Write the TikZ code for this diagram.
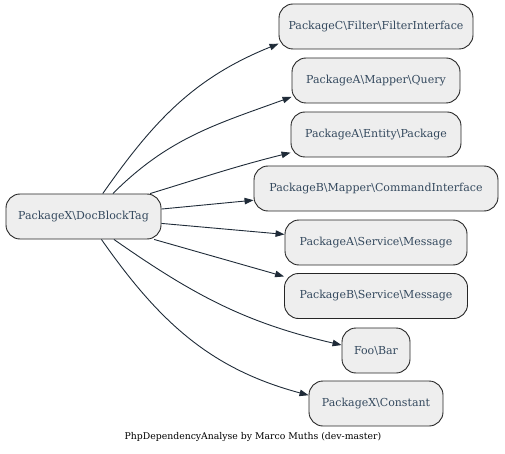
\documentclass[tikz,border=0pt]{standalone}
\usepackage{fontspec}
\setmainfont{DejaVu Serif}
\usetikzlibrary{arrows.meta}
\definecolor{pkgfill}{HTML}{EEEEEE}
\definecolor{pkgtext}{HTML}{34495E}
\definecolor{deparrow}{HTML}{1F2B38}
\tikzset{
  pkg/.style={draw=black!85, fill=pkgfill, rounded corners=14pt, text=pkgtext,
              font=\fontsize{11}{13}\selectfont, minimum height=45pt, inner xsep=6pt,
              line width=0.9pt},
  dep/.style={-{Triangle[length=9pt, width=6.5pt]}, draw=deparrow, line width=0.9pt},
}
\newcommand{\bs}{\textbackslash}
\begin{document}
\begin{tikzpicture}[x=1pt, y=1pt]
  \useasboundingbox (0,0) rectangle (505,-454);
  \node[pkg, minimum width=155pt] (X) at (83.5,-216.5) {PackageX\bs DocBlockTag};
  \node[pkg, minimum width=194pt] (CFilter) at (376,-26.5) {PackageC\bs Filter\bs FilterInterface};
  \node[pkg, minimum width=168pt] (AQuery) at (376,-80.5) {PackageA\bs Mapper\bs Query};
  \node[pkg, minimum width=170pt] (AEntity) at (376,-134.5) {PackageA\bs Entity\bs Package};
  \node[pkg, minimum width=244pt] (BCommand) at (376,-188.5) {PackageB\bs Mapper\bs CommandInterface};
  \node[pkg, minimum width=182pt] (AMessage) at (376,-242.5) {PackageA\bs Service\bs Message};
  \node[pkg, minimum width=183pt] (BMessage) at (376,-296) {PackageB\bs Service\bs Message};
  \node[pkg, minimum width=68pt] (FooBar) at (376,-350.5) {Foo\bs Bar};
  \node[pkg, minimum width=134pt] (XConstant) at (376,-403.5) {PackageX\bs Constant};
  \node[font=\fontsize{9.3}{11}\selectfont] (credit) at (253,-437) {PhpDependencyAnalyse by Marco Muths (dev-master)};
  % dependencies
  \draw[dep] (X.50) to[out=55, in=202] (CFilter.190);
  \draw[dep] (X.38) to[out=45, in=200] (AQuery.191);
  \draw[dep] (X.19) to[out=17, in=194] (AEntity.192);
  \draw[dep] (X) -- (BCommand);
  \draw[dep] (X) -- (AMessage);
  \draw[dep] (X.-18) -- (BMessage.168);
  \draw[dep] (X.-37) to[out=-35, in=167] (FooBar.171);
  \draw[dep] (X.-52) to[out=-55, in=165] (XConstant.173);
\end{tikzpicture}
\end{document}
